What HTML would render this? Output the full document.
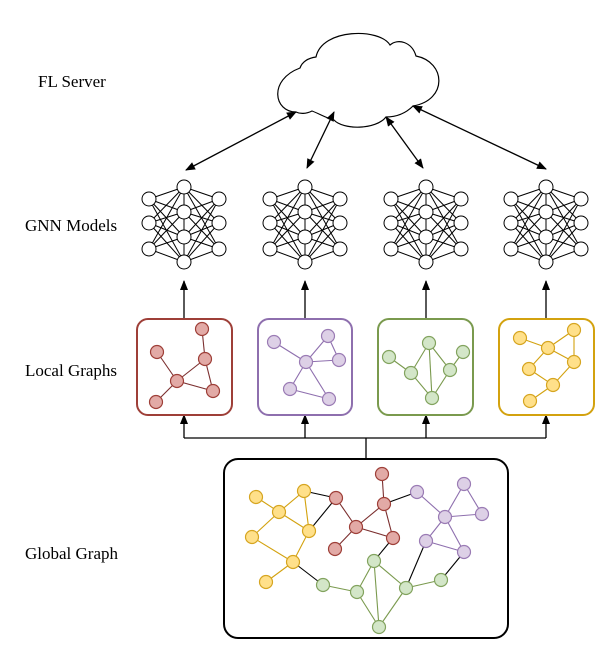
<!DOCTYPE html>
<html><head><meta charset="utf-8"><style>
html,body{margin:0;padding:0;background:#fff;}
svg{display:block;}
text{font-family:"Liberation Serif",serif;font-size:17px;fill:#000;}
</style></head><body>
<svg width="605" height="658" viewBox="0 0 605 658" xmlns="http://www.w3.org/2000/svg">
<defs>
<marker id="ah" viewBox="0 0 10 10" refX="9" refY="5" markerWidth="10" markerHeight="10" orient="auto-start-reverse" markerUnits="userSpaceOnUse">
<path d="M0,1 L10,5 L0,9 z" fill="#000"/>
</marker>
<g id="gnn" stroke="#000" stroke-width="1">
<g>
<line x1="-35" y1="12" x2="0" y2="0"/><line x1="-35" y1="12" x2="0" y2="25"/><line x1="-35" y1="12" x2="0" y2="50"/><line x1="-35" y1="12" x2="0" y2="75"/>
<line x1="-35" y1="36" x2="0" y2="0"/><line x1="-35" y1="36" x2="0" y2="25"/><line x1="-35" y1="36" x2="0" y2="50"/><line x1="-35" y1="36" x2="0" y2="75"/>
<line x1="-35" y1="62" x2="0" y2="0"/><line x1="-35" y1="62" x2="0" y2="25"/><line x1="-35" y1="62" x2="0" y2="50"/><line x1="-35" y1="62" x2="0" y2="75"/>
<line x1="35" y1="12" x2="0" y2="0"/><line x1="35" y1="12" x2="0" y2="25"/><line x1="35" y1="12" x2="0" y2="50"/><line x1="35" y1="12" x2="0" y2="75"/>
<line x1="35" y1="36" x2="0" y2="0"/><line x1="35" y1="36" x2="0" y2="25"/><line x1="35" y1="36" x2="0" y2="50"/><line x1="35" y1="36" x2="0" y2="75"/>
<line x1="35" y1="62" x2="0" y2="0"/><line x1="35" y1="62" x2="0" y2="25"/><line x1="35" y1="62" x2="0" y2="50"/><line x1="35" y1="62" x2="0" y2="75"/>
<line x1="0" y1="0" x2="0" y2="75"/>
</g>
<g fill="#fff">
<circle cx="-35" cy="12" r="7"/><circle cx="-35" cy="36" r="7"/><circle cx="-35" cy="62" r="7"/>
<circle cx="35" cy="12" r="7"/><circle cx="35" cy="36" r="7"/><circle cx="35" cy="62" r="7"/>
<circle cx="0" cy="0" r="7"/><circle cx="0" cy="25" r="7"/><circle cx="0" cy="50" r="7"/><circle cx="0" cy="75" r="7"/>
</g>
</g>
</defs>

<text x="38" y="87">FL Server</text>
<text x="25" y="231">GNN Models</text>
<text x="25" y="376">Local Graphs</text>
<text x="25" y="559">Global Graph</text>

<!-- cloud -->
<path d="M296,112 C274,112 268,80 300,68 C302,62 308,58 316,57 C322,28 380,28 390,45 C398,38 412,42 416,56 C446,62 448,100 413,106 C405,114 396,117 386,117 C376,130 343,130 334,120 C326,118 320,114 312,111 C306,114 300,114 296,112 Z" fill="#fff" stroke="#000" stroke-width="1.2"/>

<g stroke="#000" stroke-width="1.3" marker-start="url(#ah)" marker-end="url(#ah)" fill="none">
<line x1="186" y1="170" x2="296" y2="112"/>
<line x1="307" y1="168" x2="334" y2="112"/>
<line x1="423" y1="168" x2="386" y2="117"/>
<line x1="546" y1="169" x2="413" y2="106"/>
</g>

<use href="#gnn" x="184" y="187"/>
<use href="#gnn" x="305" y="187"/>
<use href="#gnn" x="426" y="187"/>
<use href="#gnn" x="546" y="187"/>

<g stroke="#000" stroke-width="1.3" marker-end="url(#ah)">
<line x1="184" y1="319" x2="184" y2="281"/>
<line x1="305" y1="319" x2="305" y2="281"/>
<line x1="426" y1="319" x2="426" y2="281"/>
<line x1="546" y1="319" x2="546" y2="281"/>
</g>
<g stroke="#000" stroke-width="1.3" fill="none">
<line x1="366" y1="458" x2="366" y2="438"/>
<line x1="184" y1="438" x2="546" y2="438"/>
</g>
<g stroke="#000" stroke-width="1.3" marker-end="url(#ah)">
<line x1="184" y1="438" x2="184" y2="415"/>
<line x1="305" y1="438" x2="305" y2="415"/>
<line x1="426" y1="438" x2="426" y2="415"/>
<line x1="546" y1="438" x2="546" y2="415"/>
</g>

<rect x="137" y="319" width="95" height="96" rx="11" fill="#fff" stroke="#9e3f38" stroke-width="2"/>
<rect x="258" y="319" width="94" height="96" rx="11" fill="#fff" stroke="#8e6fae" stroke-width="2"/>
<rect x="378" y="319" width="95" height="96" rx="11" fill="#fff" stroke="#7a9a4e" stroke-width="2"/>
<rect x="499" y="319" width="95" height="96" rx="11" fill="#fff" stroke="#d3a20f" stroke-width="2"/>

<g stroke="#7b2e2e" stroke-width="1.1">
<line x1="202" y1="329" x2="205" y2="359"/><line x1="157" y1="352" x2="177" y2="381"/>
<line x1="205" y1="359" x2="177" y2="381"/><line x1="177" y1="381" x2="213" y2="391"/>
<line x1="205" y1="359" x2="213" y2="391"/><line x1="177" y1="381" x2="156" y2="402"/>
</g>
<g fill="#e2aaa6" stroke="#9e3f38" stroke-width="1.2">
<circle cx="202" cy="329" r="6.5"/><circle cx="157" cy="352" r="6.5"/><circle cx="205" cy="359" r="6.5"/>
<circle cx="177" cy="381" r="6.5"/><circle cx="213" cy="391" r="6.5"/><circle cx="156" cy="402" r="6.5"/>
</g>
<g stroke="#8e6fae" stroke-width="1.1">
<line x1="274" y1="342" x2="306" y2="362"/><line x1="328" y1="336" x2="306" y2="362"/>
<line x1="328" y1="336" x2="339" y2="360"/><line x1="306" y1="362" x2="339" y2="360"/>
<line x1="306" y1="362" x2="290" y2="389"/><line x1="306" y1="362" x2="329" y2="399"/>
<line x1="290" y1="389" x2="329" y2="399"/>
</g>
<g fill="#ddd0e6" stroke="#9a7bb4" stroke-width="1.2">
<circle cx="274" cy="342" r="6.5"/><circle cx="328" cy="336" r="6.5"/><circle cx="339" cy="360" r="6.5"/>
<circle cx="306" cy="362" r="6.5"/><circle cx="290" cy="389" r="6.5"/><circle cx="329" cy="399" r="6.5"/>
</g>
<g stroke="#7a9a4e" stroke-width="1.1">
<line x1="389" y1="357" x2="411" y2="373"/><line x1="411" y1="373" x2="429" y2="343"/>
<line x1="429" y1="343" x2="432" y2="398"/><line x1="411" y1="373" x2="432" y2="398"/>
<line x1="429" y1="343" x2="450" y2="370"/><line x1="450" y1="370" x2="463" y2="352"/>
<line x1="450" y1="370" x2="432" y2="398"/>
</g>
<g fill="#d3e6c8" stroke="#82a35e" stroke-width="1.2">
<circle cx="389" cy="357" r="6.5"/><circle cx="429" cy="343" r="6.5"/><circle cx="463" cy="352" r="6.5"/>
<circle cx="411" cy="373" r="6.5"/><circle cx="450" cy="370" r="6.5"/><circle cx="432" cy="398" r="6.5"/>
</g>
<g stroke="#d3a20f" stroke-width="1.1">
<line x1="520" y1="338" x2="548" y2="348"/><line x1="548" y1="348" x2="574" y2="330"/>
<line x1="574" y1="330" x2="574" y2="362"/><line x1="548" y1="348" x2="574" y2="362"/>
<line x1="548" y1="348" x2="529" y2="369"/><line x1="574" y1="362" x2="553" y2="385"/>
<line x1="529" y1="369" x2="553" y2="385"/><line x1="553" y1="385" x2="530" y2="401"/>
</g>
<g fill="#ffe08a" stroke="#d6a520" stroke-width="1.2">
<circle cx="520" cy="338" r="6.5"/><circle cx="574" cy="330" r="6.5"/><circle cx="548" cy="348" r="6.5"/>
<circle cx="574" cy="362" r="6.5"/><circle cx="529" cy="369" r="6.5"/><circle cx="553" cy="385" r="6.5"/>
<circle cx="530" cy="401" r="6.5"/>
</g>

<rect x="224" y="459" width="284" height="179" rx="14" fill="#fff" stroke="#000" stroke-width="2"/>
<g stroke="#000" stroke-width="1.1">
<line x1="304" y1="491" x2="336" y2="498"/><line x1="309" y1="531" x2="336" y2="498"/>
<line x1="293" y1="562" x2="323" y2="585"/><line x1="393" y1="538" x2="374" y2="561"/>
<line x1="426" y1="541" x2="406" y2="588"/><line x1="464" y1="552" x2="441" y2="580"/>
<line x1="384" y1="504" x2="417" y2="492"/>
</g>
<g stroke="#d3a20f" stroke-width="1.1">
<line x1="256" y1="497" x2="279" y2="512"/><line x1="304" y1="491" x2="279" y2="512"/>
<line x1="304" y1="491" x2="309" y2="531"/><line x1="279" y1="512" x2="309" y2="531"/>
<line x1="279" y1="512" x2="252" y2="537"/><line x1="252" y1="537" x2="293" y2="562"/>
<line x1="309" y1="531" x2="293" y2="562"/><line x1="293" y1="562" x2="266" y2="582"/>
</g>
<g stroke="#7b2e2e" stroke-width="1.1">
<line x1="336" y1="498" x2="356" y2="527"/><line x1="382" y1="474" x2="384" y2="504"/>
<line x1="384" y1="504" x2="356" y2="527"/><line x1="384" y1="504" x2="393" y2="538"/>
<line x1="356" y1="527" x2="393" y2="538"/><line x1="356" y1="527" x2="335" y2="549"/>
</g>
<g stroke="#8e6fae" stroke-width="1.1">
<line x1="417" y1="492" x2="445" y2="517"/><line x1="464" y1="484" x2="445" y2="517"/>
<line x1="464" y1="484" x2="482" y2="514"/><line x1="445" y1="517" x2="482" y2="514"/>
<line x1="445" y1="517" x2="426" y2="541"/><line x1="445" y1="517" x2="464" y2="552"/>
<line x1="426" y1="541" x2="464" y2="552"/>
</g>
<g stroke="#7a9a4e" stroke-width="1.1">
<line x1="323" y1="585" x2="357" y2="592"/><line x1="357" y1="592" x2="374" y2="561"/>
<line x1="374" y1="561" x2="406" y2="588"/><line x1="374" y1="561" x2="379" y2="627"/>
<line x1="357" y1="592" x2="379" y2="627"/><line x1="406" y1="588" x2="379" y2="627"/>
<line x1="406" y1="588" x2="441" y2="580"/>
</g>
<g fill="#ffe08a" stroke="#d6a520" stroke-width="1.2">
<circle cx="256" cy="497" r="6.5"/><circle cx="304" cy="491" r="6.5"/><circle cx="279" cy="512" r="6.5"/>
<circle cx="309" cy="531" r="6.5"/><circle cx="252" cy="537" r="6.5"/><circle cx="293" cy="562" r="6.5"/>
<circle cx="266" cy="582" r="6.5"/>
</g>
<g fill="#e2aaa6" stroke="#9e3f38" stroke-width="1.2">
<circle cx="336" cy="498" r="6.5"/><circle cx="382" cy="474" r="6.5"/><circle cx="384" cy="504" r="6.5"/>
<circle cx="356" cy="527" r="6.5"/><circle cx="393" cy="538" r="6.5"/><circle cx="335" cy="549" r="6.5"/>
</g>
<g fill="#ddd0e6" stroke="#9a7bb4" stroke-width="1.2">
<circle cx="417" cy="492" r="6.5"/><circle cx="464" cy="484" r="6.5"/><circle cx="445" cy="517" r="6.5"/>
<circle cx="482" cy="514" r="6.5"/><circle cx="426" cy="541" r="6.5"/><circle cx="464" cy="552" r="6.5"/>
</g>
<g fill="#d3e6c8" stroke="#82a35e" stroke-width="1.2">
<circle cx="374" cy="561" r="6.5"/><circle cx="323" cy="585" r="6.5"/><circle cx="357" cy="592" r="6.5"/>
<circle cx="406" cy="588" r="6.5"/><circle cx="441" cy="580" r="6.5"/><circle cx="379" cy="627" r="6.5"/>
</g>
</svg>
</body></html>
